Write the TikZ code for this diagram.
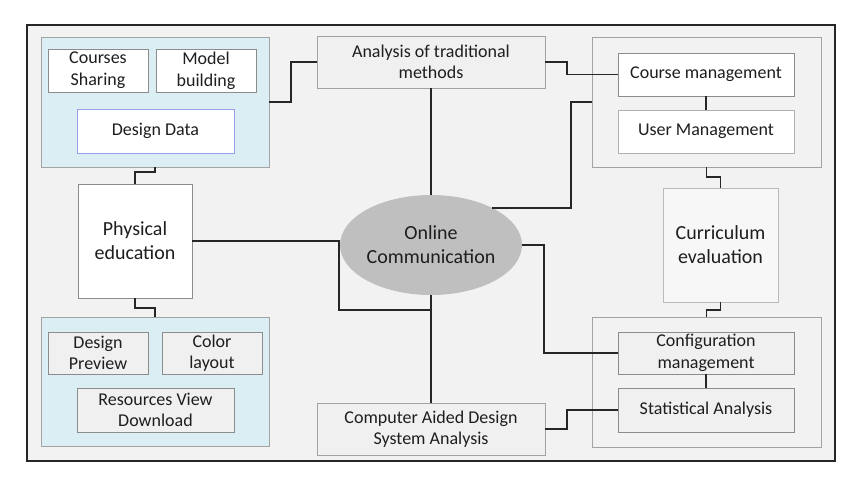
\documentclass[tikz,border=0pt]{standalone}
\usepackage{fontspec}
\setmainfont{Carlito}
\usepackage{tikz}
\usetikzlibrary{calc,positioning,shapes.geometric}
\definecolor{frameBg}{RGB}{242,242,242}
\definecolor{frameLine}{RGB}{38,38,38}
\definecolor{groupBlue}{RGB}{219,238,243}
\definecolor{boxLine}{RGB}{140,140,140}
\definecolor{boxGray}{RGB}{240,240,240}
\definecolor{dataBlue}{RGB}{150,160,235}
\definecolor{ovalGray}{RGB}{191,191,191}
\definecolor{txtGray}{RGB}{30,30,30}

\begin{document}
\begin{tikzpicture}[x=1pt,y=-1pt,
    every node/.style={inner sep=0pt,outer sep=0pt,align=center,text=txtGray,
      font=\fontsize{18}{21.6}\selectfont},
    grpbox/.style={draw=boxLine!80,line width=0.8pt,rectangle},
    wbox/.style={draw=boxLine,fill=white,line width=0.8pt,rectangle},
    gbox/.style={draw=boxLine,fill=boxGray,line width=0.8pt,rectangle},
    bigtxt/.style={font=\fontsize{20}{24}\selectfont},
    link/.style={draw=frameLine,line width=1.4pt}]
    \useasboundingbox (0,0) rectangle (856,483);

    % outer frame
    \draw[frameLine, fill=frameBg, line width=1.8pt] (27,25) rectangle (835,461);

    % left groups
    \node[grpbox, fill=groupBlue, minimum width=228pt, minimum height=130pt] (lgTop) at (155,102) {};
    \node[wbox, minimum width=100pt, minimum height=43pt] (share) at (98,70.5) {Courses\\Sharing};
    \node[wbox, minimum width=100pt, minimum height=43pt] (model) at (206,70.5) {Model\\building};
    \node[wbox, draw=dataBlue, minimum width=157pt, minimum height=44pt] (ddata) at (155.5,131) {Design Data};

    \node[wbox, bigtxt, minimum width=114pt, minimum height=114pt] (phys) at (135,241) {Physical\\education};

    \node[grpbox, fill=groupBlue, minimum width=228pt, minimum height=129pt] (lgBot) at (155,381.5) {};
    \node[gbox, minimum width=100pt, minimum height=42pt] (preview) at (98,353) {Design\\Preview};
    \node[gbox, minimum width=100pt, minimum height=42pt] (color) at (212,353) {Color\\layout};
    \node[gbox, minimum width=157pt, minimum height=44pt] (resdl) at (155.5,410) {Resources View\\Download};

    % middle column
    \node[gbox, draw=boxLine!80, minimum width=228pt, minimum height=52pt] (anal) at (431,62) {Analysis of traditional\\methods};
    \node[ellipse, fill=ovalGray, bigtxt, minimum width=156pt, minimum height=100pt] (online) at (431,245) {Online\\Communication};
    \node[gbox, draw=boxLine!80, minimum width=228pt, minimum height=52pt] (cad) at (431,429) {Computer Aided Design\\System Analysis};

    % right groups
    \node[grpbox, fill=frameBg, minimum width=229pt, minimum height=130pt] (rgTop) at (706.5,102) {};
    \node[wbox, minimum width=176pt, minimum height=43pt] (cmgmt) at (706,74.5) {Course management};
    \node[wbox, draw=boxLine!70, minimum width=176pt, minimum height=43pt] (umgmt) at (706,131.5) {User Management};

    \node[wbox, draw=boxLine!60, fill=white!97!black, bigtxt, minimum width=115pt, minimum height=114pt] (curr) at (720.5,245) {Curriculum\\evaluation};

    \node[grpbox, fill=frameBg, minimum width=229pt, minimum height=130pt] (rgBot) at (706.5,382) {};
    \node[gbox, minimum width=176pt, minimum height=42pt] (conf) at (706,353) {Configuration\\management};
    \node[gbox, minimum width=176pt, minimum height=44pt] (stat) at (706,410) {Statistical Analysis};

    % junction points
    \coordinate (jR) at (571,0);
    \coordinate (jL) at (339,310);

    % connectors
    \draw[link] (lgTop.east) -- ++(22,0) |- (anal.west);
    \draw[link] (anal.east) -- ++(22,0) |- (cmgmt.west);
    \draw[link] (anal.south) -- (online.north);
    \draw[link] (online.31) -- (online.31 -| jR) |- (rgTop.west);
    \draw[link] (online.east) -- ++(22,0) |- (conf.west);
    \draw[link] (online.south) -- (cad.north);
    \draw[link] (cad.east) -- ++(22,0) |- (stat.west);
    \draw[link] (phys.east) -| (jL) -- (jL -| cad.north);
    \draw[link] (lgTop.south) -- ++(0,5) -| (phys.north);
    \draw[link] (phys.south) -- ++(0,10) -| (lgBot.north);
    \draw[link] (rgTop.south) -- ++(0,10) -| (curr.north);
    \draw[link] (curr.south) -- ++(0,8) -| (rgBot.north);
    \draw[link] (cmgmt.south) -- (umgmt.north);
    \draw[link] (conf.south) -- (stat.north);
\end{tikzpicture}
\end{document}
